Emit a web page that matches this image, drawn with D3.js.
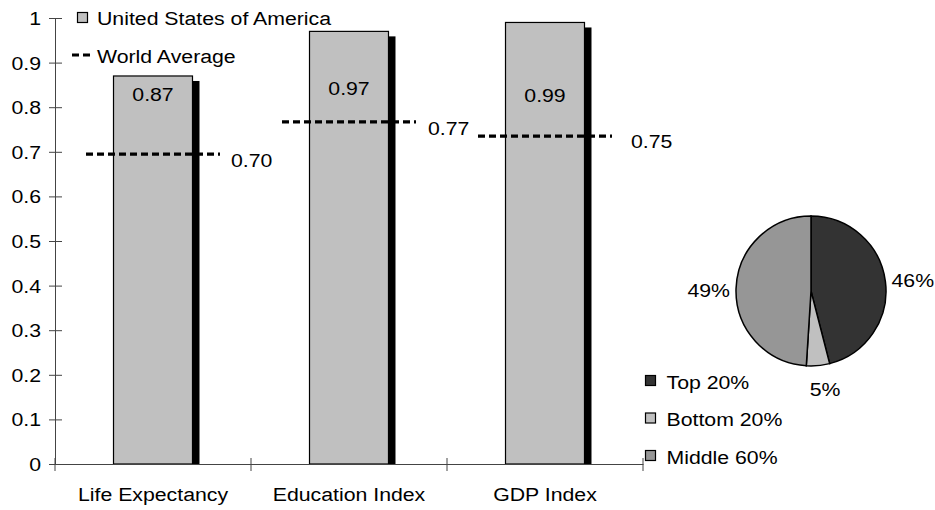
<!DOCTYPE html>
<html>
<head>
<meta charset="utf-8">
<script src="https://cdn.jsdelivr.net/npm/d3@7"></script>
<style>
  html, body { margin: 0; padding: 0; background: #fff; }
  svg { display: block; }
  text { font-family: "Liberation Sans", Arial, sans-serif; font-size: 19px; fill: #000; }
</style>
</head>
<body>
<svg id="chart" width="935" height="510"></svg>
<script>
// ---- data ----
const categories = ["Life Expectancy", "Education Index", "GDP Index"];
const usaValues = [0.87, 0.97, 0.99];
const usaLabels = ["0.87", "0.97", "0.99"];
const worldValues = [0.695, 0.767, 0.735];
const worldLabels = ["0.70", "0.77", "0.75"];
const yTicks = [0, 0.1, 0.2, 0.3, 0.4, 0.5, 0.6, 0.7, 0.8, 0.9, 1];
const yTickLabels = ["0", "0.1", "0.2", "0.3", "0.4", "0.5", "0.6", "0.7", "0.8", "0.9", "1"];
const pieNames = ["Top 20%", "Bottom 20%", "Middle 60%"];
const pieValues = [46, 5, 49];
const pieLabels = ["46%", "5%", "49%"];

// ---- styles / layout ----
const SX = 1.12;                   // horizontal text stretch of the reference
const barFill = "#C0C0C0";
const pieColors = ["#333333", "#C0C0C0", "#969696"];
const axisColor = "#444";
const valueLabelY = [101, 95, 101.5];       // baselines of value labels (px)
const worldLabelDX = [11, 12, 19];
const worldLabelDY = [13, 13, 12];
const dash = "7,4";

const svg = d3.select("#chart");

function txt(g, x, y, s, anchor) {
  return g.append("text")
    .attr("transform", `translate(${x},${y}) scale(${SX},1)`)
    .attr("text-anchor", anchor || "start")
    .text(s);
}

const x0 = 55, x1 = 643, yTop = 18, yBase = 464;
const x = d3.scaleBand().domain(categories).range([x0, x1]).padding(0);
const y = d3.scaleLinear().domain([0, 1]).range([yBase, yTop]);
const barW = x.bandwidth() * 0.403;

// ---- bars (shadow + bar) ----
const gBars = svg.append("g");
categories.forEach((c, i) => {
  const cx = x(c) + x.bandwidth() / 2;
  const bx = cx - barW / 2;
  gBars.append("rect")
    .attr("x", bx + 7).attr("y", y(usaValues[i]) + 5)
    .attr("width", barW).attr("height", yBase - y(usaValues[i]) - 5)
    .attr("fill", "#000");
  gBars.append("rect")
    .attr("x", bx).attr("y", y(usaValues[i]))
    .attr("width", barW).attr("height", yBase - y(usaValues[i]))
    .attr("fill", barFill).attr("stroke", "#000").attr("stroke-width", 1.2);
  txt(gBars, cx, valueLabelY[i], usaLabels[i], "middle");
});

// ---- world average dashed lines ----
const gW = svg.append("g");
categories.forEach((c, i) => {
  const cx = x(c) + x.bandwidth() / 2;
  const yy = y(worldValues[i]);
  gW.append("line")
    .attr("x1", cx - 67).attr("x2", cx + 67)
    .attr("y1", yy).attr("y2", yy)
    .attr("stroke", "#000").attr("stroke-width", 3.2)
    .attr("stroke-dasharray", dash);
  txt(gW, cx + 67 + worldLabelDX[i], yy + worldLabelDY[i], worldLabels[i], "start");
});

// ---- axes ----
const gA = svg.append("g");
const yAxis = d3.axisLeft(y).tickValues(yTicks).tickFormat((d, i) => yTickLabels[i])
  .tickSizeInner(6).tickSizeOuter(0).tickPadding(12);
const ya = gA.append("g").attr("transform", `translate(${x0},0)`).call(yAxis);
ya.select(".domain").attr("stroke", axisColor);
ya.selectAll(".tick line").attr("stroke", axisColor).attr("x2", 7).attr("x1", -6);
ya.selectAll(".tick text").remove();
yTicks.forEach((t, i) => {
  txt(gA, 41, y(t) + 7, yTickLabels[i], "end");
});

const xAxis = d3.axisBottom(x).tickSize(0).tickFormat("");
const xa = gA.append("g").attr("transform", `translate(0,${yBase})`).call(xAxis);
xa.select(".domain").attr("stroke", axisColor);
xa.selectAll(".tick").remove();
const bounds = categories.map(c => x(c)).concat([x.range()[1]]);
bounds.forEach(b => {
  gA.append("line").attr("x1", b).attr("x2", b)
    .attr("y1", yBase - 6).attr("y2", yBase + 7)
    .attr("stroke", axisColor);
});
categories.forEach(c => {
  txt(gA, x(c) + x.bandwidth() / 2, 501, c, "middle");
});

// ---- top legend ----
const gL = svg.append("g");
gL.append("rect").attr("x", 77.5).attr("y", 12.5).attr("width", 10).attr("height", 10)
  .attr("fill", barFill).attr("stroke", "#000").attr("stroke-width", 1.2);
txt(gL, 97, 24.5, "United States of America");
gL.append("line").attr("x1", 72).attr("x2", 94).attr("y1", 55).attr("y2", 55)
  .attr("stroke", "#000").attr("stroke-width", 3.2).attr("stroke-dasharray", dash);
txt(gL, 97, 63, "World Average");

// ---- pie ----
const pcx = 811, pcy = 291, pr = 75;
const pie = d3.pie().sort(null).value(d => d)(pieValues);
const arc = d3.arc().innerRadius(0).outerRadius(pr);
const gP = svg.append("g").attr("transform", `translate(${pcx},${pcy})`);
gP.selectAll("path").data(pie).join("path")
  .attr("d", arc)
  .attr("fill", (d, i) => pieColors[i])
  .attr("stroke", "#000").attr("stroke-width", 1.5);

// pie labels
const pieLabelPos = [[891.5, 287, "start"], [825, 396, "middle"], [730, 297, "end"]];
pieLabels.forEach((l, i) => {
  txt(svg, pieLabelPos[i][0], pieLabelPos[i][1], l, pieLabelPos[i][2]);
});

// pie legend
const gPL = svg.append("g");
pieNames.forEach((n, i) => {
  const by = 388.5 + i * 37.5;
  gPL.append("rect").attr("x", 645.5).attr("y", by - 13).attr("width", 10).attr("height", 10)
    .attr("fill", pieColors[i]).attr("stroke", "#000").attr("stroke-width", 1.2);
  txt(gPL, 666.5, by, n);
});
</script>
</body>
</html>
